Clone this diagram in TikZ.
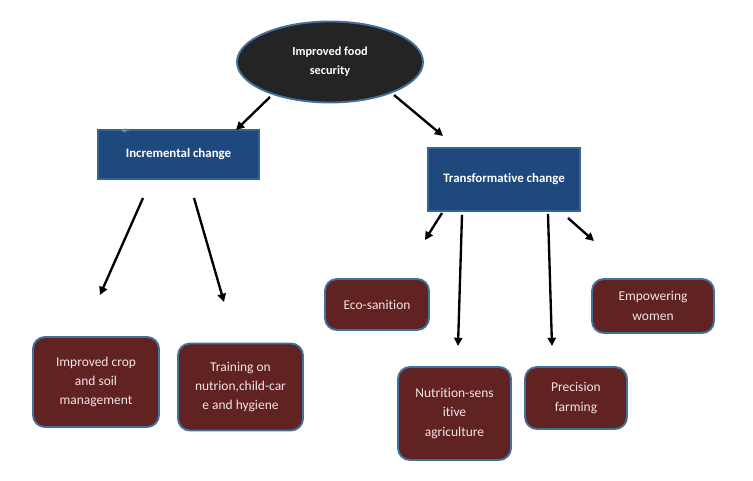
\documentclass[tikz,border=0pt]{standalone}
\usepackage{fontspec}
\setmainfont[Ligatures=NoCommon]{Carlito}
\usetikzlibrary{shapes.geometric,arrows.meta}
\definecolor{rimblue}{RGB}{65,113,156}
\definecolor{boxblue}{RGB}{31,73,125}
\definecolor{wine}{RGB}{97,34,34}
\definecolor{paletext}{RGB}{242,228,228}
\begin{document}
\begin{tikzpicture}[x=0.03cm,y=-0.03cm,
	goal/.style={ellipse,draw=rimblue,line width=1.6pt,fill=black!86,text=white,font=\fontsize{10.5}{16}\selectfont\bfseries,align=center,minimum width=5.58cm,minimum height=2.43cm},
	change/.style={rectangle,draw=rimblue!70!boxblue,line width=1pt,fill=boxblue,text=white,font=\fontsize{11}{16}\selectfont\bfseries},
	item/.style={rectangle,rounded corners=0.36cm,draw=rimblue,line width=1.6pt,fill=wine,text=paletext,font=\fontsize{11.5}{16.5}\selectfont,align=center,inner sep=0pt},
	link/.style={-{Triangle[length=7pt,width=7pt]},line width=2pt}]
				\useasboundingbox (0,0) rectangle (753,481);
				\node[goal] (food) at (330,62) {Improved food\\security};
				\node[change,minimum width=4.83cm,minimum height=1.47cm] (inc) at (178.5,154.5) {Incremental change};
				\node[change,minimum width=4.56cm,minimum height=1.89cm] (trans) at (504,179.5) {Transformative change};
				\node[item,minimum width=3.78cm,minimum height=2.7cm] (crop) at (96,382) {Improved crop\\and soil\\management};
				\node[item,minimum width=3.75cm,minimum height=2.61cm] (train) at (240.5,387) {Training on\\nutrion,child-car\\e and hygiene};
				\node[item,minimum width=3.12cm,minimum height=1.53cm] (eco) at (377,304.5) {Eco-sanition};
				\node[item,minimum width=3.66cm,minimum height=1.62cm] (women) at (653,306) {Empowering\\women};
				\node[item,minimum width=3.39cm,minimum height=2.79cm] (nutri) at (454.5,413.5) {Nutrition-sens\\itive\\agriculture};
				\node[item,minimum width=3.06cm,minimum height=1.86cm] (farm) at (576,398) {Precision\\farming};
				\coordinate (food-l) at (270,97);
				\coordinate (inc-in) at (236,130);
				\coordinate (food-r) at (394,95);
				\coordinate (trans-in) at (443,136);
				\coordinate (inc-a) at (143,198);
				\coordinate (crop-in) at (100,295);
				\coordinate (inc-b) at (194,198);
				\coordinate (train-in) at (224,302);
				\coordinate (trans-a) at (442,213);
				\coordinate (eco-in) at (425,240);
				\coordinate (trans-b) at (462,215);
				\coordinate (nutri-in) at (458,346);
				\coordinate (trans-c) at (548,214);
				\coordinate (farm-in) at (552,346);
				\coordinate (trans-d) at (568,218);
				\coordinate (women-in) at (594,241);
				\coordinate (tick-a) at (129,130.5);
				\coordinate (tick-b) at (121,130.5);
				\draw[link] (food-l) -- (inc-in);
				\draw[link] (food-r) -- (trans-in);
				\draw[link] (inc-a) -- (crop-in);
				\draw[link] (inc-b) -- (train-in);
				\draw[link] (trans-a) -- (eco-in);
				\draw[link] (trans-b) -- (nutri-in);
				\draw[link] (trans-c) -- (farm-in);
				\draw[link] (trans-d) -- (women-in);
				\draw[-{Triangle[length=4pt,width=4pt]},rimblue!80!white,line width=0.8pt] (tick-a) -- (tick-b);
			\end{tikzpicture}
\end{document}
